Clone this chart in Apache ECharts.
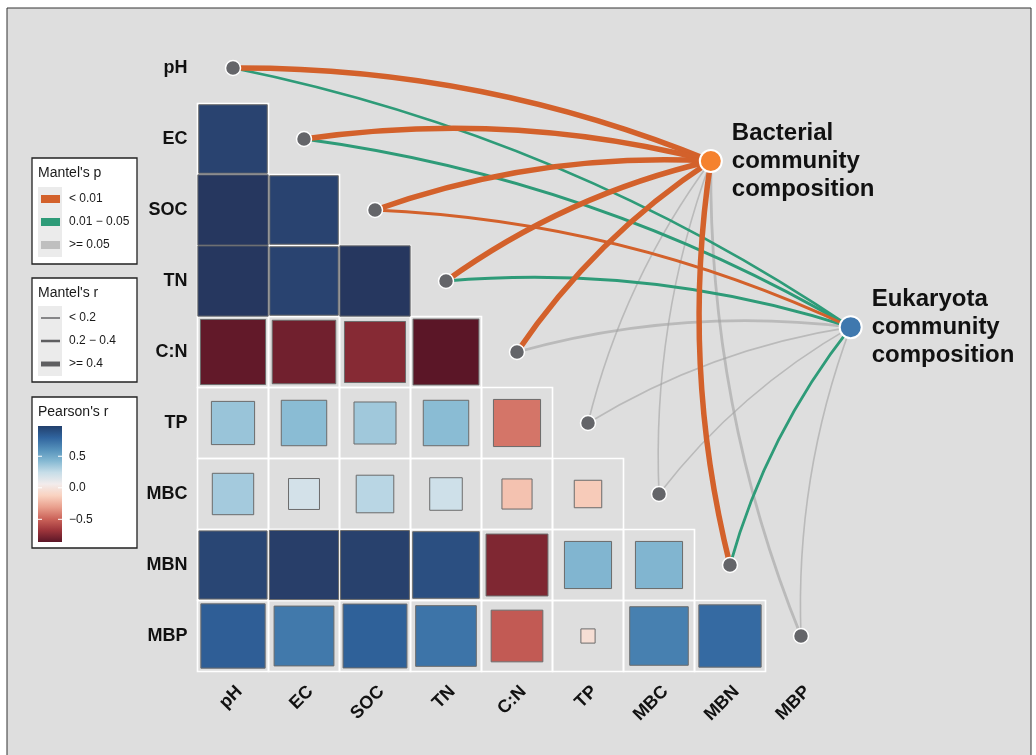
<!DOCTYPE html>
<html>
<head>
<meta charset="utf-8">
<script src="https://cdn.jsdelivr.net/npm/echarts@6/dist/echarts.min.js"></script>
<style>
  html, body { margin: 0; padding: 0; background: #fff; }
  #chart { width: 1036px; height: 755px; }
</style>
</head>
<body>
<div id="chart"></div>
<script>
const VARS = ["pH", "EC", "SOC", "TN", "C:N", "TP", "MBC", "MBN", "MBP"];

// Pearson's r, lower triangle: row i holds columns 0..i-1
const PEARSON = [
  [],
  [0.93],
  [0.98, 0.93],
  [0.98, 0.93, 0.98],
  [-0.84, -0.80, -0.74, -0.86],
  [0.37, 0.41, 0.35, 0.41, -0.44],
  [0.34, 0.19, 0.28, 0.21, -0.18, -0.15],
  [0.92, 0.95, 0.94, 0.88, -0.76, 0.44, 0.44],
  [0.82, 0.71, 0.81, 0.73, -0.53, -0.04, 0.68, 0.77]
];

// Mantel test classes per variable (same order as VARS)
// p: 0 "< 0.01", 1 "0.01 - 0.05", 2 ">= 0.05"; r: 0 "< 0.2", 1 "0.2 - 0.4", 2 ">= 0.4"
const BAC_P = [0, 0, 0, 0, 0, 2, 2, 0, 2];
const BAC_R = [2, 2, 2, 2, 2, 0, 0, 2, 1];
const EUK_P = [1, 1, 0, 1, 2, 2, 2, 1, 2];
const EUK_R = [1, 1, 1, 1, 1, 0, 0, 1, 0];

const TARGETS       = ["Bacterial\ncommunity\ncomposition", "Eukaryota\ncommunity\ncomposition"];
const TARGET_COLORS = ["#f5822f", "#3f78ae"];
const TARGET_XY     = [[6.73, 1.31], [8.70, 3.65]];

const P_LABELS = ["< 0.01", "0.01 \u2212 0.05", ">= 0.05"];
const P_COLORS = ["#d3612b", "#2e9b78", "rgba(162,162,162,0.6)"];
const R_LABELS = ["< 0.2", "0.2 \u2212 0.4", ">= 0.4"];
const R_WIDTHS = [1.6, 2.8, 5.5];

const R_MIN = -0.86, R_MAX = 0.98;
const R_COLORS = ["#5b1627", "#9d353b", "#cc645a", "#e99f8d", "#f9d2c0", "#f2ecec",
                  "#c6dde8", "#84b8d2", "#5490ba", "#30649e", "#22406d"];
const BAR_TICKS = [0.5, 0, -0.5];
const BAR_TICK_LABELS = ["0.5", "0.0", "\u22120.5"];

const FONT = '"Liberation Sans", Arial, Helvetica, sans-serif';
const chart = echarts.init(document.getElementById("chart"));

const cells = [];
PEARSON.forEach((row, i) => row.forEach((r, j) => cells.push([j, i, r])));

// links, grey first so significant ones sit on top
const links = [];
VARS.forEach((v, i) => {
  links.push({ i, t: 0, p: BAC_P[i], r: BAC_R[i] });
  links.push({ i, t: 1, p: EUK_P[i], r: EUK_R[i] });
});
links.sort((a, b) => b.p - a.p);

// ---- panel + legend boxes (graphic) ----
const g = [];
g.push({ type: "rect", z: -10, silent: true,
  shape: { x: 7, y: 8, width: 1024, height: 770 },
  style: { fill: "#dedede", stroke: "#333", lineWidth: 1 } });

function box(y, h, title) {
  g.push({ type: "rect", z: 10, shape: { x: 32, y, width: 105, height: h },
    style: { fill: "#fff", stroke: "#222", lineWidth: 1.3 } });
  g.push({ type: "text", z: 11, style: { text: title, x: 38, y: y + 15, font: `14px ${FONT}`,
    fill: "#1a1a1a", verticalAlign: "middle" } });
}
function lbl(text, y) {
  g.push({ type: "text", z: 11, style: { text, x: 69, y, font: `12px ${FONT}`,
    fill: "#1a1a1a", verticalAlign: "middle" } });
}

box(158, 106, "Mantel's p");
g.push({ type: "rect", z: 11, shape: { x: 38, y: 187, width: 24, height: 70 }, style: { fill: "#ebebeb" } });
P_LABELS.forEach((t, k) => {
  const y = 199 + k * 23;
  g.push({ type: "rect", z: 12, shape: { x: 41, y: y - 4, width: 19, height: 8 },
    style: { fill: k === 2 ? "#bfbfbf" : P_COLORS[k] } });
  lbl(t, y);
});

box(278, 104, "Mantel's r");
g.push({ type: "rect", z: 11, shape: { x: 38, y: 306, width: 24, height: 70 }, style: { fill: "#ebebeb" } });
R_LABELS.forEach((t, k) => {
  const y = 318 + k * 23;
  g.push({ type: "line", z: 12, shape: { x1: 41, y1: y, x2: 60, y2: y },
    style: { stroke: "#5e5e60", lineWidth: R_WIDTHS[k] * 0.9 } });
  lbl(t, y);
});

box(397, 151, "Pearson's r");
const barTop = 426, barH = 116;
g.push({ type: "rect", z: 11, shape: { x: 38, y: barTop, width: 24, height: barH },
  style: { fill: new echarts.graphic.LinearGradient(0, 1, 0, 0,
    R_COLORS.map((c, k) => ({ offset: k / (R_COLORS.length - 1), color: c }))) } });
BAR_TICKS.forEach((v, k) => {
  const y = barTop + (R_MAX - v) / (R_MAX - R_MIN) * barH;
  g.push({ type: "line", z: 12, shape: { x1: 38, y1: y, x2: 42, y2: y }, style: { stroke: "#fff", lineWidth: 1 } });
  g.push({ type: "line", z: 12, shape: { x1: 58, y1: y, x2: 62, y2: y }, style: { stroke: "#fff", lineWidth: 1 } });
  lbl(BAR_TICK_LABELS[k], y);
});

const axisText = { fontFamily: FONT, fontWeight: "bold", fontSize: 18, color: "#111" };

chart.setOption({
  backgroundColor: "#fff",
  animation: false,
  textStyle: { fontFamily: FONT },
  graphic: g,
  grid: { left: 197.5, top: 32.5, width: 781, height: 639 },
  xAxis: [
    { type: "category", data: [...VARS, "", ""], position: "bottom",
      axisLine: { show: false }, axisTick: { show: false }, splitLine: { show: false },
      axisLabel: { ...axisText, rotate: 45, margin: 11, interval: 0, verticalAlign: "top" } },
    { type: "value", min: -0.5, max: 10.5, show: false }
  ],
  yAxis: [
    { type: "category", data: VARS, inverse: true,
      axisLine: { show: false }, axisTick: { show: false }, splitLine: { show: false },
      axisLabel: { ...axisText, margin: 10 } },
    { type: "value", min: -0.5, max: 8.5, inverse: true, show: false }
  ],
  visualMap: {
    type: "continuous", show: false, min: R_MIN, max: R_MAX, dimension: 2,
    seriesIndex: 1, inRange: { color: R_COLORS.slice(0, 10).concat("#26375f") }
  },
  series: [
    { // white cell frames
      type: "custom", xAxisIndex: 1, yAxisIndex: 1, z: 1, silent: true, data: cells,
      renderItem: (params, api) => {
        const c = api.coord([api.value(0), api.value(1)]);
        const s = api.size([1, 1]);
        return { type: "rect", shape: { x: c[0] - s[0] / 2, y: c[1] - s[1] / 2, width: s[0], height: s[1] },
          style: { fill: "none", stroke: "#fff", lineWidth: 1.6 } };
      }
    },
    { // squares sized by |r|
      type: "custom", xAxisIndex: 1, yAxisIndex: 1, z: 2, silent: true, data: cells,
      renderItem: (params, api) => {
        const c = api.coord([api.value(0), api.value(1)]);
        const s = Math.sqrt(Math.abs(api.value(2))) * api.size([1, 1])[0];
        return { type: "rect", shape: { x: c[0] - s / 2, y: c[1] - s / 2, width: s, height: s },
          style: { fill: api.visual("color"), stroke: "#6b6b6b", lineWidth: 1 } };
      }
    },
    {
      type: "lines", coordinateSystem: "cartesian2d", xAxisIndex: 1, yAxisIndex: 1, z: 3, silent: true,
      lineStyle: { curveness: 0.1, opacity: 1, cap: "round" },
      data: links.map(l => ({
        coords: [[l.i, l.i], TARGET_XY[l.t]],
        lineStyle: { color: P_COLORS[l.p], width: R_WIDTHS[l.r] }
      }))
    },
    {
      type: "scatter", xAxisIndex: 1, yAxisIndex: 1, z: 4, silent: true,
      symbolSize: 15, itemStyle: { color: "#646569", borderColor: "#fff", borderWidth: 1.5, opacity: 1 },
      data: VARS.map((v, i) => [i, i])
    },
    {
      type: "scatter", xAxisIndex: 1, yAxisIndex: 1, z: 5, silent: true,
      symbolSize: 22,
      data: TARGETS.map((t, k) => ({ name: t, value: TARGET_XY[k],
        itemStyle: { color: TARGET_COLORS[k], borderColor: "#fff", borderWidth: 2, opacity: 1 } })),
      label: { show: true, position: "right", distance: 9, formatter: p => p.name,
        fontFamily: FONT, fontWeight: "bold", fontSize: 24, lineHeight: 28, color: "#111", align: "left" }
    }
  ]
});
</script>
</body>
</html>
